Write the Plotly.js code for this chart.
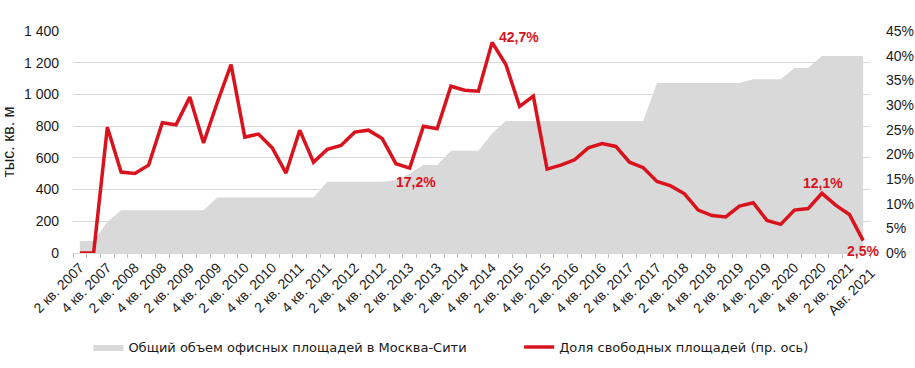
<!DOCTYPE html>
<html>
<head>
<meta charset="utf-8">
<script src="https://cdn.plot.ly/plotly-3.0.1.min.js"></script>
<style>
html,body{margin:0;padding:0;background:#fff;}
#chart{width:915px;height:368px;}
</style>
</head>
<body>
<div id="chart"></div>
<script>
const categories = [
  "2 кв. 2007","3 кв. 2007","4 кв. 2007",
  "1 кв. 2008","2 кв. 2008","3 кв. 2008","4 кв. 2008",
  "1 кв. 2009","2 кв. 2009","3 кв. 2009","4 кв. 2009",
  "1 кв. 2010","2 кв. 2010","3 кв. 2010","4 кв. 2010",
  "1 кв. 2011","2 кв. 2011","3 кв. 2011","4 кв. 2011",
  "1 кв. 2012","2 кв. 2012","3 кв. 2012","4 кв. 2012",
  "1 кв. 2013","2 кв. 2013","3 кв. 2013","4 кв. 2013",
  "1 кв. 2014","2 кв. 2014","3 кв. 2014","4 кв. 2014",
  "1 кв. 2015","2 кв. 2015","3 кв. 2015","4 кв. 2015",
  "1 кв. 2016","2 кв. 2016","3 кв. 2016","4 кв. 2016",
  "1 кв. 2017","2 кв. 2017","3 кв. 2017","4 кв. 2017",
  "1 кв. 2018","2 кв. 2018","3 кв. 2018","4 кв. 2018",
  "1 кв. 2019","2 кв. 2019","3 кв. 2019","4 кв. 2019",
  "1 кв. 2020","2 кв. 2020","3 кв. 2020","4 кв. 2020",
  "1 кв. 2021","2 кв. 2021","Авг. 2021"
];
// Общий объем офисных площадей, тыс. кв. м
const totalStock = [
  76, 76, 196, 270, 270, 270, 270, 270, 270, 270,
  350, 350, 350, 350, 350, 350, 350, 350, 450, 450,
  450, 450, 450, 458, 500, 555, 555, 645, 645, 645,
  753, 832, 832, 832, 832, 832, 832, 832, 832, 832,
  832, 832, 1072, 1072, 1072, 1072, 1072, 1072, 1072, 1095,
  1095, 1095, 1167, 1167, 1242, 1242, 1242, 1242
];
// Доля свободных площадей, %
const vacancy = [
  0, 0, 25.5, 16.4, 16.1, 17.8, 26.4, 26.0, 31.6, 22.3,
  30.5, 38.2, 23.5, 24.1, 21.3, 16.2, 24.9, 18.4, 21.0, 21.8,
  24.5, 24.9, 23.2, 18.1, 17.2, 25.7, 25.2, 33.8, 33.0, 32.8,
  42.7, 38.2, 29.7, 31.8, 17.0, 17.8, 18.9, 21.3, 22.2, 21.6,
  18.4, 17.3, 14.5, 13.6, 12.0, 8.7, 7.6, 7.3, 9.5, 10.2,
  6.6, 5.8, 8.7, 9.0, 12.1, 9.7, 7.8, 2.5
];
const lastCat = categories[categories.length - 1];
const tickLabels = categories.map(c => (/^[13] кв\./.test(c) || c === lastCat) ? "" : c);
const labelled = [
  {cat: "4 кв. 2014", text: "42,7%", xanchor: "left", xshift: 5, yshift: 5},
  {cat: "2 кв. 2013", text: "17,2%", xanchor: "center", xshift: 6, yshift: -14},
  {cat: "4 кв. 2020", text: "12,1%", xanchor: "center", xshift: 1, yshift: 10},
  {cat: "Авг. 2021", text: "2,5%", xanchor: "center", xshift: 0, yshift: -10}
];

const red = "#D9131E";
const font = "Liberation Sans, Arial, sans-serif";
const legendFamily = "DejaVu Sans, Liberation Sans, sans-serif";
const txt = "#1a1a1a";

const traces = [
  {
    x: categories, y: totalStock, type: "scatter", mode: "lines",
    fill: "tozeroy", fillcolor: "#D9D9D9", line: {width: 0, color: "#D9D9D9"},
    name: "Общий объем офисных площадей в Москва-Сити", yaxis: "y", legend: "legend"
  },
  {
    x: categories, y: vacancy, type: "scatter", mode: "lines",
    line: {width: 3.5, color: red},
    name: "Доля свободных площадей (пр. ось)", yaxis: "y2", legend: "legend2"
  }
];

const annotations = labelled.map(a => ({
  x: a.cat, y: vacancy[categories.indexOf(a.cat)], xref: "x", yref: "y2",
  text: "<b>" + a.text + "</b>", showarrow: false,
  xanchor: a.xanchor, yanchor: "middle", xshift: a.xshift, yshift: a.yshift,
  font: {family: font, size: 14, color: red}
}));
// last category label, drawn slightly apart from its neighbour as in the original
annotations.push({
  x: lastCat, y: 0, xref: "x", yref: "paper", text: lastCat, showarrow: false,
  textangle: -45, xanchor: "center", yanchor: "middle", xshift: -12, yshift: -39,
  font: {family: font, size: 14, color: txt}
});

const legendFont = {family: legendFamily, size: 13, color: txt};
const layout = {
  width: 915, height: 368,
  margin: {l: 72.6, r: 45, t: 30.7, b: 115.3, autoexpand: false},
  paper_bgcolor: "#fff", plot_bgcolor: "#fff",
  separators: ", ",
  font: {family: font, size: 14, color: txt},
  showlegend: true,
  legend: {
    orientation: "h", x: 0.0193, xanchor: "left", y: -0.4234, yanchor: "middle",
    font: legendFont, itemwidth: 30, bgcolor: "rgba(0,0,0,0)"
  },
  legend2: {
    orientation: "h", x: 0.5598, xanchor: "left", y: -0.4234, yanchor: "middle",
    font: legendFont, itemwidth: 30, bgcolor: "rgba(0,0,0,0)"
  },
  xaxis: {
    type: "category", categoryorder: "array", categoryarray: categories,
    range: [-0.5, categories.length - 0.5], automargin: false,
    tickvals: categories, ticktext: tickLabels,
    tickson: "boundaries", ticks: "outside", ticklen: 4, tickcolor: "#BFBFBF",
    tickangle: -45, tickfont: {family: font, size: 14, color: txt},
    showgrid: false, showline: true, linecolor: "#D9D9D9", zeroline: false
  },
  yaxis: {
    range: [0, 1400], dtick: 200, tickformat: ",d", automargin: false,
    showgrid: true, gridcolor: "#D9D9D9", gridwidth: 1, zeroline: false,
    showline: false, ticks: "", ticklabelstandoff: 13,
    tickfont: {family: font, size: 14, color: txt},
    title: {text: "тыс. кв. м", font: {family: font, size: 16, color: txt}, standoff: 8}
  },
  yaxis2: {
    overlaying: "y", side: "right", range: [0, 45], dtick: 5, ticksuffix: "%",
    automargin: false,
    showgrid: false, zeroline: false, showline: false, ticks: "", ticklabelstandoff: 15,
    tickfont: {family: font, size: 14, color: txt}
  },
  annotations: annotations
};

Plotly.newPlot("chart", traces, layout, {displayModeBar: false, staticPlot: true});
</script>
</body>
</html>
